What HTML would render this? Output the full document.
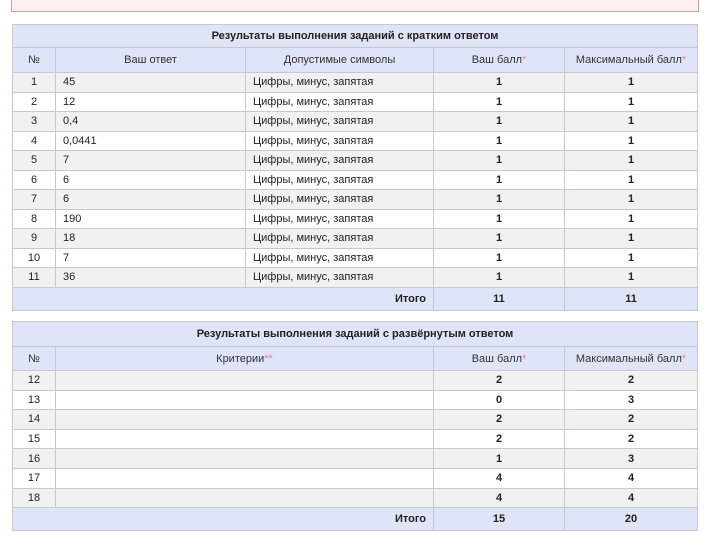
<!DOCTYPE html>
<html><head><meta charset="utf-8"><style>
body{margin:0;width:715px;height:540px;background:#fff;position:relative;overflow:hidden;font-family:"Liberation Sans","DejaVu Sans",sans-serif;font-size:11px;color:#222}
.pink{position:absolute;left:11px;top:-2px;width:686px;height:12px;background:#fcefec;border:1px solid #b8a8a8}
table{position:absolute;left:12px;border-collapse:collapse;table-layout:fixed;width:685px}
td{border:1px solid #c6c9d4;padding:0 7px;white-space:nowrap;overflow:hidden}
.t{background:#dfe4f6;font-weight:bold;text-align:center}
.h{background:#dfe4f6;text-align:center;color:#333}
.h span{color:#e88}
tr.g td{background:#f1f1f1}
.c{text-align:center}
.b{text-align:center;font-weight:bold}
.tot td{background:#dfe4f6;font-weight:bold}
</style></head><body>
<div class="pink"></div>
<table style="top:24px">
<colgroup><col style="width:43px"><col style="width:190px"><col style="width:188px"><col style="width:131px"><col style="width:133px"></colgroup>
<tr style="height:23px"><td class="t" colspan="5">Результаты выполнения заданий с кратким ответом</td></tr>
<tr style="height:25px"><td class="h">№</td><td class="h">Ваш ответ</td><td class="h">Допустимые символы</td><td class="h">Ваш балл<span>*</span></td><td class="h">Максимальный балл<span>*</span></td></tr>
<tr class="g" style="height:19.5px"><td class="c">1</td><td>45</td><td>Цифры, минус, запятая</td><td class="b">1</td><td class="b">1</td></tr>
<tr style="height:19.5px"><td class="c">2</td><td>12</td><td>Цифры, минус, запятая</td><td class="b">1</td><td class="b">1</td></tr>
<tr class="g" style="height:19.5px"><td class="c">3</td><td>0,4</td><td>Цифры, минус, запятая</td><td class="b">1</td><td class="b">1</td></tr>
<tr style="height:19.5px"><td class="c">4</td><td>0,0441</td><td>Цифры, минус, запятая</td><td class="b">1</td><td class="b">1</td></tr>
<tr class="g" style="height:19.5px"><td class="c">5</td><td>7</td><td>Цифры, минус, запятая</td><td class="b">1</td><td class="b">1</td></tr>
<tr style="height:19.5px"><td class="c">6</td><td>6</td><td>Цифры, минус, запятая</td><td class="b">1</td><td class="b">1</td></tr>
<tr class="g" style="height:19.5px"><td class="c">7</td><td>6</td><td>Цифры, минус, запятая</td><td class="b">1</td><td class="b">1</td></tr>
<tr style="height:19.5px"><td class="c">8</td><td>190</td><td>Цифры, минус, запятая</td><td class="b">1</td><td class="b">1</td></tr>
<tr class="g" style="height:19.5px"><td class="c">9</td><td>18</td><td>Цифры, минус, запятая</td><td class="b">1</td><td class="b">1</td></tr>
<tr style="height:19.5px"><td class="c">10</td><td>7</td><td>Цифры, минус, запятая</td><td class="b">1</td><td class="b">1</td></tr>
<tr class="g" style="height:19.5px"><td class="c">11</td><td>36</td><td>Цифры, минус, запятая</td><td class="b">1</td><td class="b">1</td></tr>
<tr class="tot" style="height:23px"><td colspan="3" style="text-align:right">Итого</td><td class="b">11</td><td class="b">11</td></tr>
</table>
<table style="top:321px">
<colgroup><col style="width:43px"><col style="width:378px"><col style="width:131px"><col style="width:133px"></colgroup>
<tr style="height:25px"><td class="t" colspan="4">Результаты выполнения заданий с развёрнутым ответом</td></tr>
<tr style="height:24px"><td class="h">№</td><td class="h">Критерии<span>**</span></td><td class="h">Ваш балл<span>*</span></td><td class="h">Максимальный балл<span>*</span></td></tr>
<tr class="g" style="height:19.6px"><td class="c">12</td><td></td><td class="b">2</td><td class="b">2</td></tr>
<tr style="height:19.6px"><td class="c">13</td><td></td><td class="b">0</td><td class="b">3</td></tr>
<tr class="g" style="height:19.6px"><td class="c">14</td><td></td><td class="b">2</td><td class="b">2</td></tr>
<tr style="height:19.6px"><td class="c">15</td><td></td><td class="b">2</td><td class="b">2</td></tr>
<tr class="g" style="height:19.6px"><td class="c">16</td><td></td><td class="b">1</td><td class="b">3</td></tr>
<tr style="height:19.6px"><td class="c">17</td><td></td><td class="b">4</td><td class="b">4</td></tr>
<tr class="g" style="height:19.6px"><td class="c">18</td><td></td><td class="b">4</td><td class="b">4</td></tr>
<tr class="tot" style="height:23px"><td colspan="2" style="text-align:right">Итого</td><td class="b">15</td><td class="b">20</td></tr>
</table>
</body></html>
